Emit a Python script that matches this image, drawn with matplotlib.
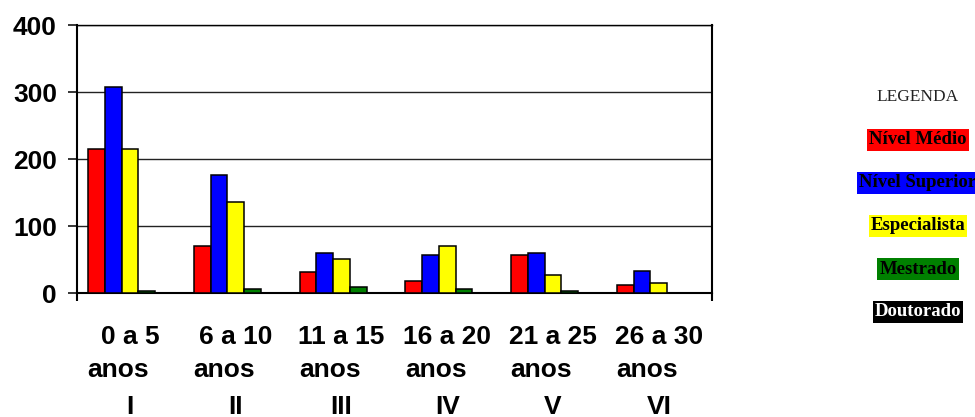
import numpy as np
import matplotlib.pyplot as plt
from matplotlib.transforms import blended_transform_factory

# Data
faixas = ['0 a 5', '6 a 10', '11 a 15', '16 a 20', '21 a 25', '26 a 30']
romanos = ['I', 'II', 'III', 'IV', 'V', 'VI']
series = ['Nível Médio', 'Nível Superior', 'Especialista', 'Mestrado', 'Doutorado']
nivel_medio = [215, 71, 32, 18, 57, 12]
nivel_superior = [307, 176, 60, 57, 60, 33]
especialista = [215, 136, 51, 71, 27, 15]
mestrado = [3, 6, 9, 6, 3, 0]
doutorado = [0, 0, 0, 0, 0, 0]
valores = [nivel_medio, nivel_superior, especialista, mestrado, doutorado]
cores = ['#FF0000', '#0000FF', '#FFFF00', '#008000', '#000000']
y_ticks = [0, 100, 200, 300, 400]

fig = plt.figure(figsize=(9.75, 4.17), dpi=100)
ax = fig.add_axes([0.079, 0.2966, 0.651, 0.6434])

x = np.arange(len(faixas))
w = 0.158
for i, (vals, cor) in enumerate(zip(valores, cores)):
    ax.bar(x + (i - 2) * w, vals, width=w, color=cor, edgecolor='black',
           linewidth=1.1, zorder=3)

ax.set_xlim(-0.5, len(faixas) - 0.5)
ax.set_ylim(0, 400)
ax.set_yticks(y_ticks)
ax.set_yticklabels([str(v) for v in y_ticks], fontsize=19, fontweight='bold',
                   family='Liberation Sans')
ax.tick_params(axis='y', length=6.5, width=1.1, pad=8, direction='out')
ax.set_xticks([-0.5, len(faixas) - 0.5])
ax.set_xticklabels(['', ''])
ax.tick_params(axis='x', length=6, width=1.5, direction='out')
ax.grid(axis='y', color='#222222', linewidth=1.0, zorder=1)
for s in ['left', 'right', 'bottom']:
    ax.spines[s].set_linewidth(1.5)
ax.spines['top'].set_linewidth(1.0)

# category labels, three lines each
tr = blended_transform_factory(ax.transData, fig.transFigure)
for xi, f, r in zip(x, faixas, romanos):
    ax.text(xi, 1 - 343.7 / 417, f, transform=tr, ha='center', va='baseline',
            fontsize=19, fontweight='bold', family='Liberation Sans')
    ax.text(xi - 0.11, 1 - 377 / 417, 'anos', transform=tr, ha='center',
            va='baseline', fontsize=19, fontweight='bold', family='Liberation Sans')
    ax.text(xi, 1 - 413.5 / 417, r, transform=tr, ha='center', va='baseline',
            fontsize=19, fontweight='bold', family='Liberation Sans')

# legend drawn as coloured text boxes
fig.text(918 / 975, 1 - 97 / 417, 'LEGENDA', ha='center', va='center',
         fontsize=12.5, family='Liberation Serif', color='#222222')
for k, (nome, cor) in enumerate(zip(series, cores)):
    fig.text(918 / 975, 1 - (140 + 43 * k) / 417, nome, ha='center', va='center',
             fontsize=13.5, fontweight='bold', family='Liberation Serif',
             color='white' if nome == 'Doutorado' else 'black',
             bbox=dict(facecolor=cor, edgecolor='none', pad=1.5))

fig.savefig('out.png', dpi=100)
